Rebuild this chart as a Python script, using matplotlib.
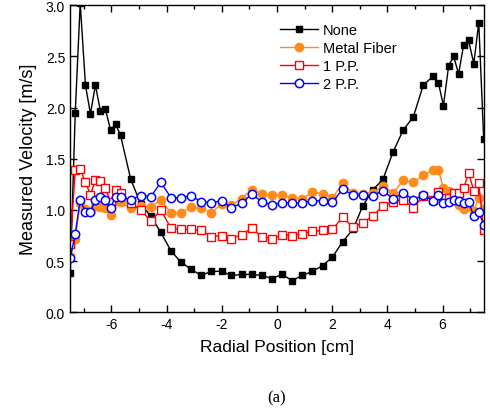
import matplotlib
matplotlib.use("Agg")
import matplotlib.pyplot as plt
from matplotlib.ticker import MultipleLocator

plt.rcParams['font.family'] = ['Liberation Sans', 'DejaVu Sans']

# Radial positions [cm]
x = [-7.49, -7.31, -7.13, -6.94, -6.76, -6.58, -6.40, -6.22, -6.03, -5.85,
     -5.67, -5.30, -4.94, -4.57, -4.21, -3.84, -3.48, -3.11, -2.75, -2.38,
     -2.01, -1.65, -1.28, -0.92, -0.55, -0.18,
     0.18, 0.55, 0.92, 1.28, 1.65, 2.01, 2.38, 2.75, 3.11, 3.48,
     3.84, 4.21, 4.57, 4.94, 5.30, 5.67,
     5.85, 6.03, 6.22, 6.40, 6.58, 6.76, 6.94, 7.13, 7.31, 7.49]

none_v = [0.38, 1.95, 3.02, 2.22, 1.94, 2.22, 1.97, 1.99, 1.78, 1.84,
          1.73, 1.30, 1.06, 0.94, 0.78, 0.60, 0.49, 0.42, 0.36, 0.40,
          0.40, 0.36, 0.37, 0.37, 0.36, 0.33,
          0.37, 0.31, 0.36, 0.40, 0.455, 0.54, 0.69, 0.81, 1.04, 1.20,
          1.30, 1.57, 1.78, 1.91, 2.22, 2.31,
          2.24, 2.02, 2.41, 2.50, 2.33, 2.61, 2.66, 2.43, 2.83, 1.69]

metal_v = [0.55, 0.72, 1.07, 1.01, 0.98, 1.04, 1.03, 1.015, 0.95, 1.09,
           1.08, 1.015, 1.035, 1.03, 1.10, 0.97, 0.975, 1.025, 1.015, 0.975,
           1.055, 1.05, 1.11, 1.20, 1.16, 1.145,
           1.145, 1.12, 1.105, 1.18, 1.155, 1.12, 1.26, 1.165, 1.16, 1.17,
           1.235, 1.165, 1.29, 1.27, 1.34, 1.39,
           1.39, 1.21, 1.19, 1.15, 1.05, 1.01, 1.04, 0.99, 1.12, 1.01]

pp1_v = [0.67, 1.39, 1.40, 1.27, 1.15, 1.29, 1.28, 1.21, 1.08, 1.20,
         1.17, 1.07, 1.00, 0.89, 1.00, 0.82, 0.81, 0.81, 0.80, 0.74,
         0.75, 0.72, 0.76, 0.82, 0.74, 0.72,
         0.755, 0.75, 0.77, 0.79, 0.80, 0.81, 0.93, 0.83, 0.875, 0.945,
         1.04, 1.08, 1.10, 1.02, 1.135, 1.10,
         1.18, 1.115, 1.12, 1.165, 1.165, 1.21, 1.36, 1.19, 1.26, 0.80]

pp2_v = [0.53, 0.77, 1.10, 0.98, 0.98, 1.10, 1.13, 1.10, 1.02, 1.13,
         1.13, 1.10, 1.14, 1.13, 1.27, 1.12, 1.12, 1.14, 1.08, 1.07,
         1.09, 1.02, 1.065, 1.155, 1.08, 1.05,
         1.07, 1.07, 1.07, 1.09, 1.09, 1.075, 1.205, 1.145, 1.145, 1.14,
         1.19, 1.105, 1.17, 1.10, 1.145, 1.09,
         1.145, 1.065, 1.08, 1.10, 1.09, 1.065, 1.08, 0.94, 0.98, 0.855]

labels = ["None", "Metal Fiber", "1 P.P.", "2 P.P."]
xticks = [-6, -4, -2, 0, 2, 4, 6]
yticks = [0.0, 0.5, 1.0, 1.5, 2.0, 2.5, 3.0]

fig = plt.figure(figsize=(4.9, 4.14), dpi=100)
ax = fig.add_axes([70/490, 1 - 313.3/414, 414/490, 307/414])

ax.plot(x, none_v, color='black', lw=1.0, marker='s', ms=5,
        mfc='black', mec='black', label=labels[0])
ax.plot(x, metal_v, color='#FF8C1A', lw=1.0, marker='o', ms=6,
        mfc='#FF8C1A', mec='#FF8C1A', label=labels[1])
ax.plot(x, pp1_v, color='#FF0000', lw=1.0, marker='s', ms=5.5,
        mfc='white', mec='#FF0000', mew=1.0, label=labels[2])
ax.plot(x, pp2_v, color='#0000FF', lw=1.0, marker='o', ms=6,
        mfc='white', mec='#0000FF', mew=1.1, label=labels[3])

ax.set_xlim(-7.5, 7.5)
ax.set_ylim(0.0, 3.0)
ax.set_xticks(xticks)
ax.set_xticklabels([str(t) for t in xticks])
ax.set_yticks(yticks)
ax.set_yticklabels([f"{t:.1f}" for t in yticks])
ax.xaxis.set_minor_locator(MultipleLocator(1))
ax.tick_params(which='both', direction='in', top=True, right=True,
               labelsize=10, width=1.0)
ax.tick_params(which='major', length=5)
ax.tick_params(which='minor', length=3)
ax.tick_params(axis='y', which='minor', left=False, right=False)
for s in ax.spines.values():
    s.set_linewidth(1.0)

ax.set_xlabel("Radial Position [cm]", fontsize=12.5, labelpad=6)
ax.set_ylabel("Measured Velocity [m/s]", fontsize=13, labelpad=6)

ax.legend(loc='upper left', bbox_to_anchor=(0.487, 0.972), frameon=False,
          fontsize=10.5, handlelength=2.6, handletextpad=0.3,
          labelspacing=0.28, borderaxespad=0.2)

fig.text(276.7/490, 1 - 398/414, "(a)", ha='center', va='center',
         fontsize=12, family=['Liberation Serif', 'DejaVu Serif'])

fig.savefig("out.png", dpi=100)
